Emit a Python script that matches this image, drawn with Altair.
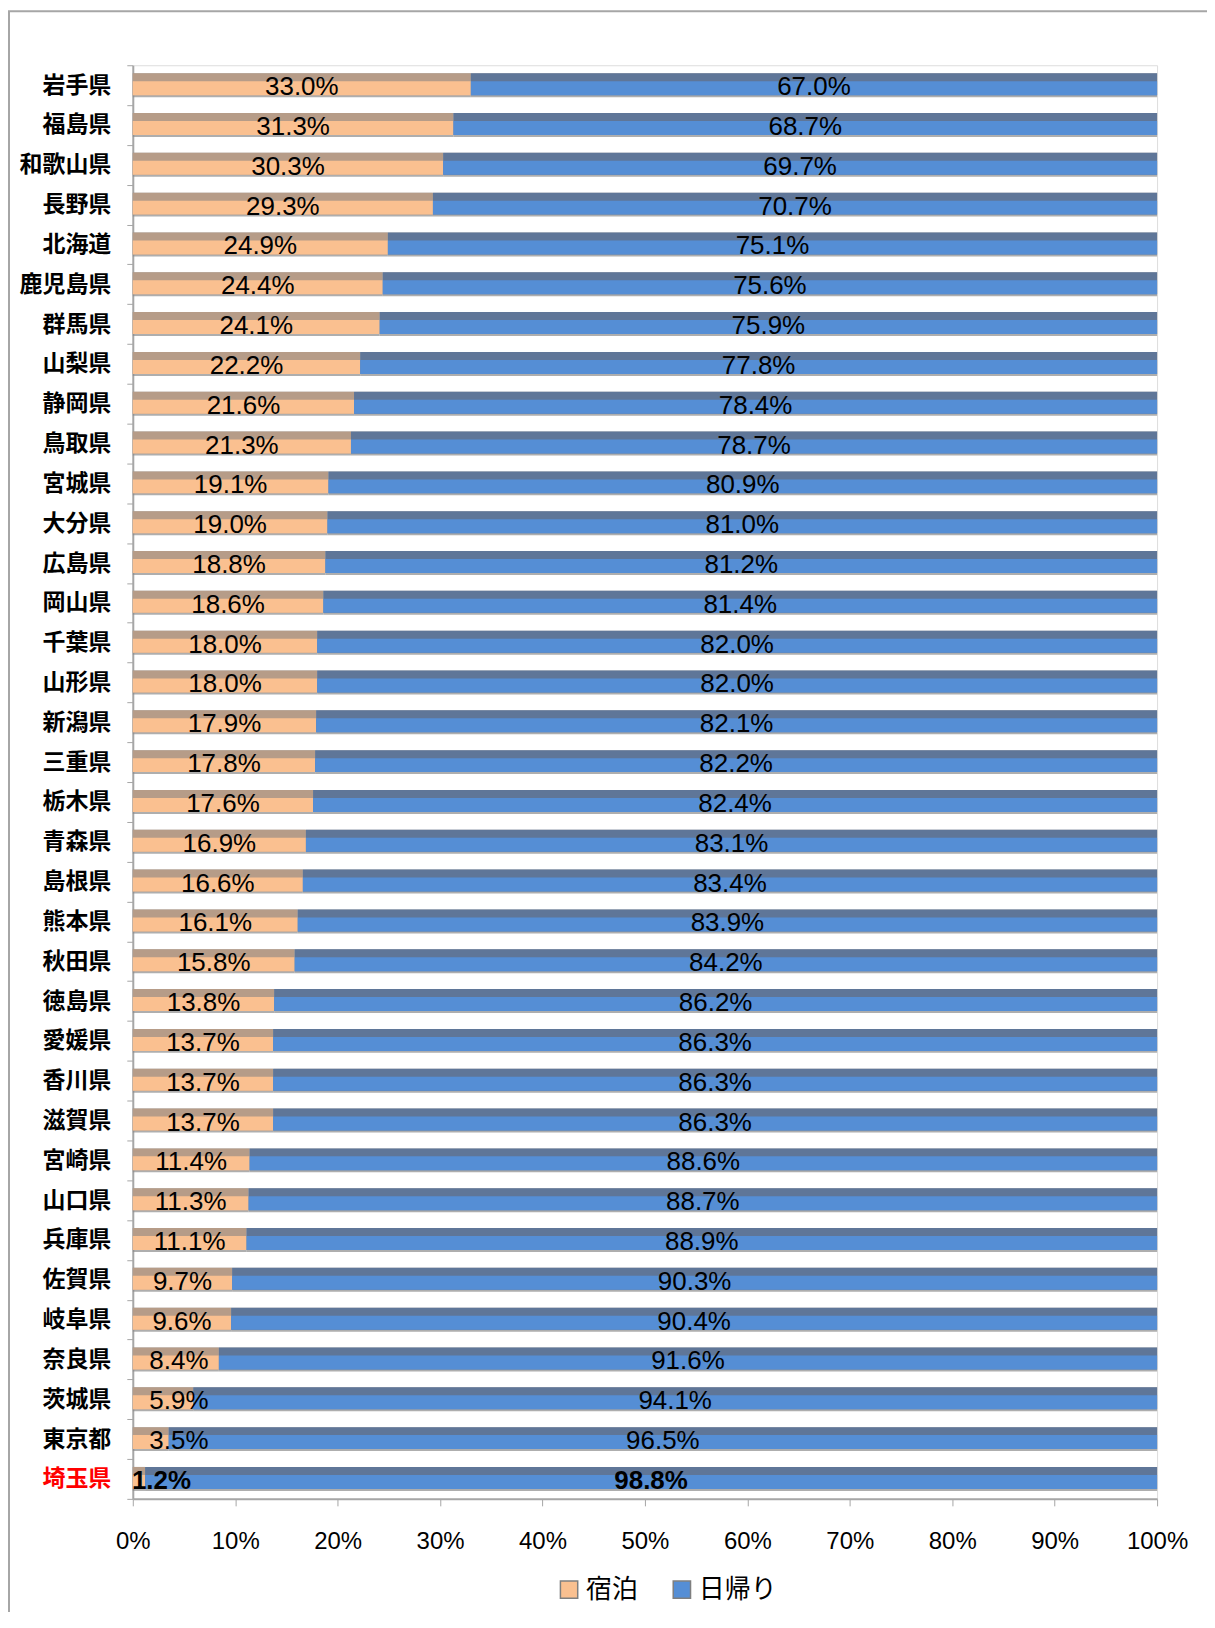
import altair as alt
import pandas as pd

prefs = ["岩手県", "福島県", "和歌山県", "長野県", "北海道", "鹿児島県", "群馬県", "山梨県",
         "静岡県", "鳥取県", "宮城県", "大分県", "広島県", "岡山県", "千葉県", "山形県",
         "新潟県", "三重県", "栃木県", "青森県", "島根県", "熊本県", "秋田県", "徳島県",
         "愛媛県", "香川県", "滋賀県", "宮崎県", "山口県", "兵庫県", "佐賀県", "岐阜県",
         "奈良県", "茨城県", "東京都", "埼玉県"]
stay = [33.0, 31.3, 30.3, 29.3, 24.9, 24.4, 24.1, 22.2, 21.6, 21.3, 19.1, 19.0, 18.8, 18.6,
        18.0, 18.0, 17.9, 17.8, 17.6, 16.9, 16.6, 16.1, 15.8, 13.8, 13.7, 13.7, 13.7, 11.4,
        11.3, 11.1, 9.7, 9.6, 8.4, 5.9, 3.5, 1.2]
day = [67.0, 68.7, 69.7, 70.7, 75.1, 75.6, 75.9, 77.8, 78.4, 78.7, 80.9, 81.0, 81.2, 81.4,
       82.0, 82.0, 82.1, 82.2, 82.4, 83.1, 83.4, 83.9, 84.2, 86.2, 86.3, 86.3, 86.3, 88.6,
       88.7, 88.9, 90.3, 90.4, 91.6, 94.1, 96.5, 98.8]
series = ["宿泊", "日帰り"]
highlight = "埼玉県"

rows = []
for p, s, d in zip(prefs, stay, day):
    rows.append({"pref": p, "series": series[0], "value": s, "start": 0.0, "end": s,
                 "mid": s / 2, "label": f"{s:.1f}%", "hl": p == highlight})
    rows.append({"pref": p, "series": series[1], "value": d, "start": s, "end": s + d,
                 "mid": s + d / 2, "label": f"{d:.1f}%", "hl": p == highlight})
df = pd.DataFrame(rows)

NARROW = "'Liberation Sans', Arial, sans-serif"
CJK = "Noto Sans CJK JP"

yenc = alt.Y("pref:N", sort=prefs,
             scale=alt.Scale(paddingInner=0, paddingOuter=0),
             axis=alt.Axis(title=None, labelFont=CJK, labelFontSize=23, labelFontWeight="bold",
                           labelColor=alt.expr(f"datum.value == '{highlight}' ? '#FF0000' : '#000000'"),
                           labelPadding=16, tickSize=6, tickBand="extent",
                           domainColor="#A6A6A6", tickColor="#A6A6A6", domainWidth=2))
xscale = alt.Scale(domain=[0, 100], nice=False)
xenc = alt.X("start:Q", scale=xscale,
             axis=alt.Axis(title=None, values=list(range(0, 101, 10)),
                           labelExpr="datum.value + '%'", labelFont=NARROW, labelFontSize=24,
                           labelOverlap=False, labelFlush=False, labelPadding=24, tickSize=7,
                           grid=False, domainColor="#A6A6A6", tickColor="#A6A6A6",
                           domainWidth=2, labelColor="#000000"))

base = alt.Chart(df)

frame = base.mark_bar(size=24, color="#8C8C8C", opacity=0.7).encode(
    x=xenc, x2="end:Q", y=yenc, detail="series:N")

top = base.mark_bar(size=22, yOffset=-1).encode(
    x=xenc, x2="end:Q", y=yenc,
    color=alt.Color("series:N", scale=alt.Scale(domain=series, range=["#B69C88", "#5F7698"]),
                    legend=None))

main = base.mark_bar(size=14, yOffset=3).encode(
    x=xenc, x2="end:Q", y=yenc,
    fill=alt.Fill("series:N", scale=alt.Scale(domain=series, range=["#FAC090", "#558ED5"]),
                  legend=alt.Legend(title=None, orient="none", direction="horizontal",
                                    legendX=424, legendY=1514, labelFont=CJK, labelFontSize=26,
                                    symbolType="square", symbolSize=300,
                                    symbolStrokeColor="#7F7F7F", symbolStrokeWidth=1.5,
                                    columnPadding=30, labelLimit=200)))

labeled = base.transform_calculate(
    xpos="datum.series == '宿泊' ? max(datum.mid, datum.hl ? 2.8 : 4.5) : datum.mid")

txt = labeled.transform_filter("!datum.hl").mark_text(
    font=NARROW, fontSize=26, baseline="middle", yOffset=2, color="#000000").encode(
    x=alt.X("xpos:Q", scale=xscale), y=alt.Y("pref:N", sort=prefs), text="label:N")

txt_hl = labeled.transform_filter("datum.hl").mark_text(
    font=NARROW, fontSize=26, fontWeight="bold", baseline="middle", yOffset=2,
    color="#000000").encode(
    x=alt.X("xpos:Q", scale=xscale), y=alt.Y("pref:N", sort=prefs), text="label:N")

border = alt.Chart(pd.DataFrame({"a": [0]})).mark_rect(
    fill=None, stroke="#A6A6A6", strokeWidth=2).encode(
    x=alt.value(-124), x2=alt.value(1200), y=alt.value(-54), y2=alt.value(1700))

chart = alt.layer(border, frame, top, main, txt, txt_hl).resolve_scale(
    color="independent", fill="independent"
).properties(
    width=1026, height=1436,
    padding={"left": 125, "top": 56, "right": 50, "bottom": 112},
    autosize=alt.AutoSizeParams(type="none")
).configure_view(stroke=None).configure(background="white")

chart.save("out.html", embed_options={"renderer": "svg", "actions": False})
